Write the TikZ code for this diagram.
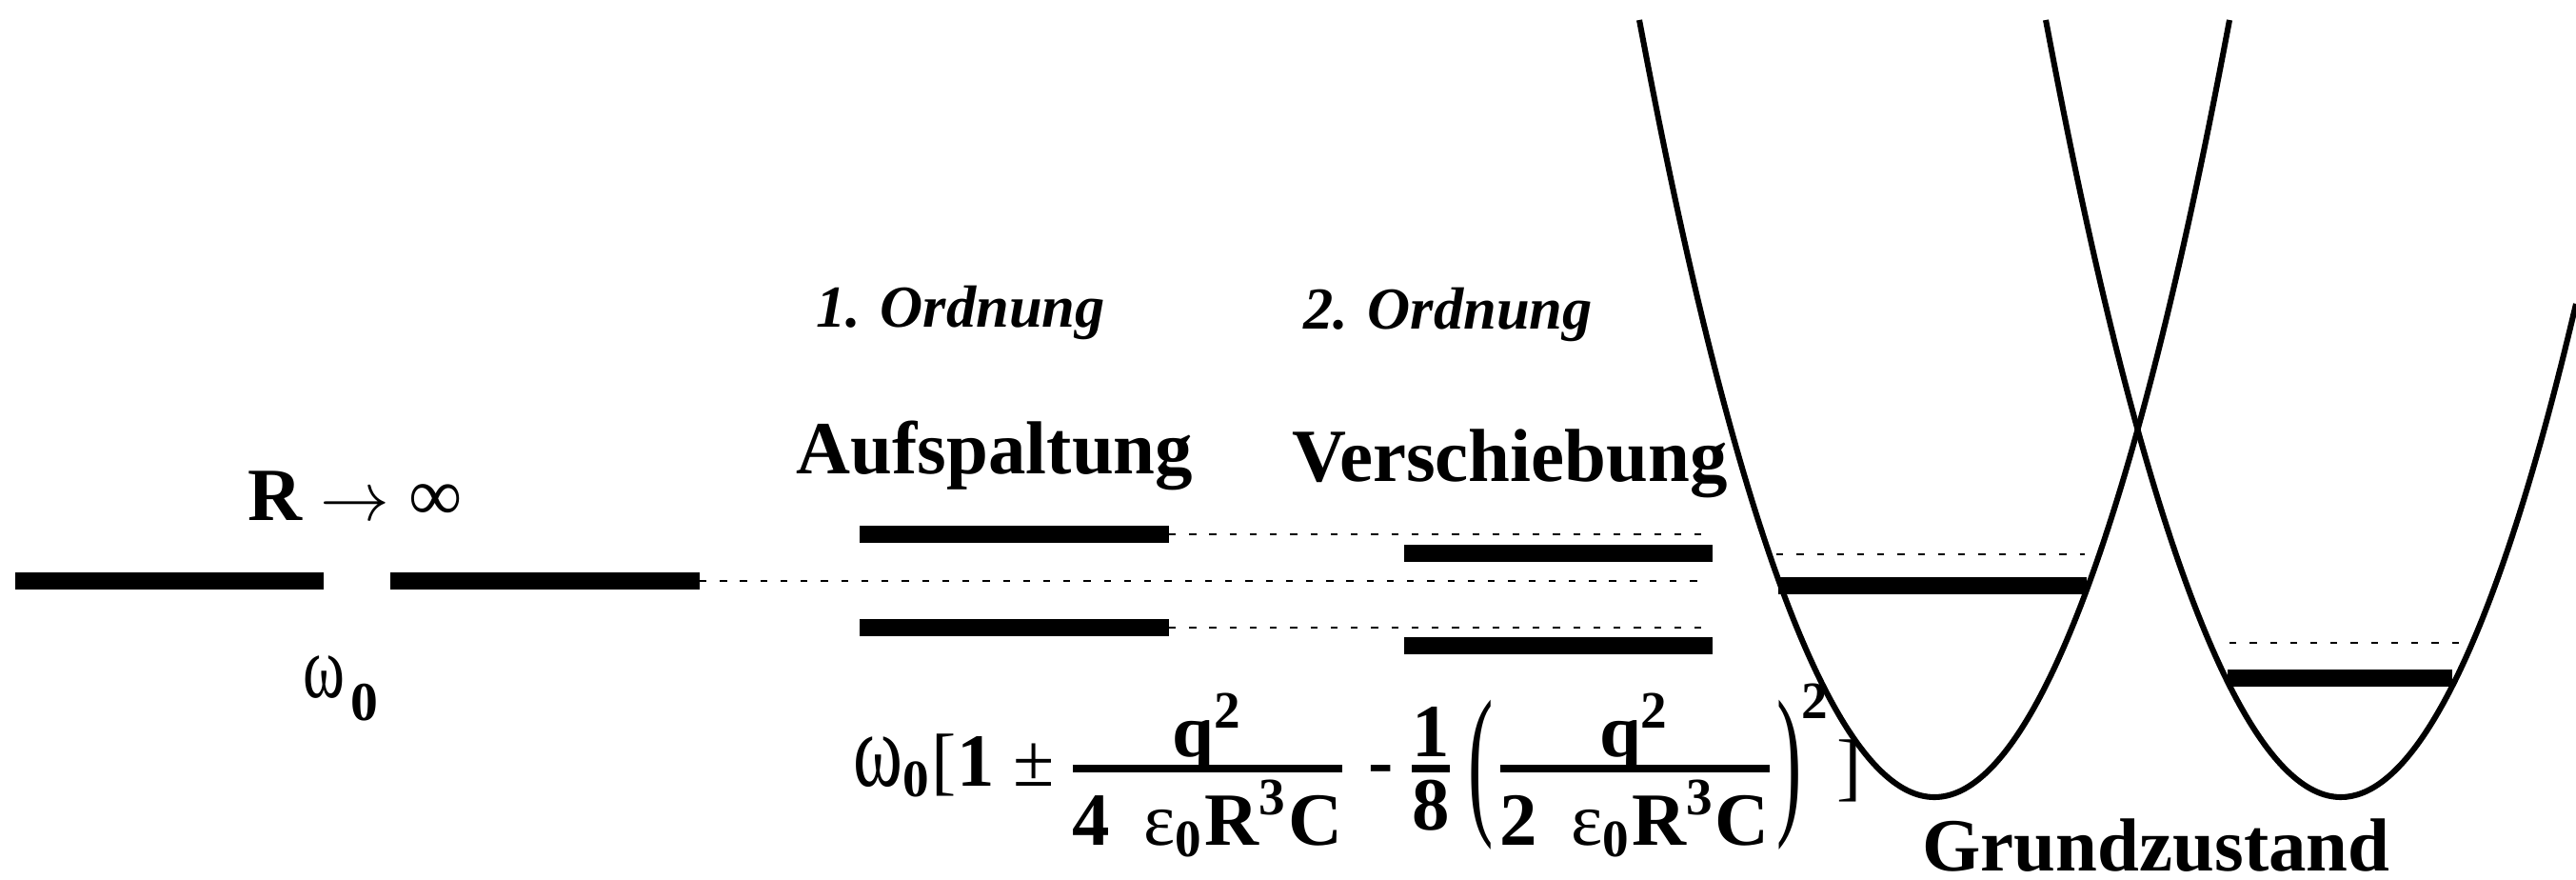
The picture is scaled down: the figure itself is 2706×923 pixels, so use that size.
\documentclass[tikz,border=0pt]{standalone}
\usepackage{fontspec}
\setmainfont{Liberation Serif}
\usepackage{amsmath}
\usepackage{graphicx}

% tall omega as in the original symbol font
\newcommand{\om}{\scalebox{1}[1.4]{\textmd{ω}}}
% fraction with a heavy rule
\newcommand{\bfrac}[2]{\genfrac{}{}{1.3pt}{1}{\displaystyle #1}{\displaystyle #2}}
% tall thin parentheses
\newcommand{\lpar}{\raisebox{-5pt}{\scalebox{1}[2.2]{\textmd{(}}}}
\newcommand{\rpar}{\raisebox{-5pt}{\scalebox{1}[2.2]{\textmd{)}}}}

\begin{document}
\begin{tikzpicture}[
    x=0.05794mm, y=-0.05794mm,
    level/.style = {line width=3pt},
    guide/.style = {line width=0.3pt, dash pattern=on 1.2pt off 2.3pt},
    well/.style  = {line width=1pt},
    txt/.style   = {inner sep=0pt, anchor=base,
                    font=\fontsize{13}{15}\selectfont\bfseries},
    order/.style = {txt, font=\fontsize{10.3}{12}\selectfont\bfseries\itshape}
]
\useasboundingbox (0,0) rectangle (2706,923);

% ========= free atoms, R -> infinity =========
\draw[level] (16,610) -- (340,610);
\draw[level] (410,610) -- (735,610) coordinate (free);
\node[txt] (rinf)  at (373,546) {R $\rightarrow$ \textmd{∞}};
\node[txt] (omega) at (358,732)
    {{\fontsize{11}{13}\selectfont\om}\kern1pt\raisebox{-4pt}{\fontsize{9.5}{11}\selectfont 0}};

% ========= first order: splitting =========
\node[order] (first) at (1009,343) {1. Ordnung};
\node[txt]   (split) at (1045,497) {Aufspaltung};
\draw[level] (903,561) -- (1228,561) coordinate (splitup);
\draw[level] (903,659) -- (1228,659) coordinate (splitlo);

% ========= second order: shift =========
\node[order] (second) at (1521,345) {2. Ordnung};
\node[txt]   (shift)  at (1586,505) {Verschiebung};
\draw[level] (1475,581) -- (1799,581);
\draw[level] (1475,678) -- (1799,678);

% ========= dashed guides =========
\coordinate (endup) at (1788,561);
\coordinate (endmid) at (1788,610);
\coordinate (endlo) at (1788,659);
\draw[guide] (free)    -- (endmid);
\draw[guide] (splitup) -- (endup);
\draw[guide] (splitlo) -- (endlo);

% ========= potential wells =========
\draw[well] (1722,21) parabola bend (2032,837) (2342,21);
\draw[well] (2149,21) parabola bend (2459,837) (2706,319);
\draw[guide] (1866,582) -- (2190,582);
\draw[level] (1868,615) -- (2192,615);
\draw[guide] (2342,675) -- (2586,675);
\draw[level] (2340,712) -- (2576,712);
\node[txt] (ground) at (2265,914) {Grundzustand};

% ========= frequency =========
\node[txt, anchor=base west] (freq) at (895,825)
    {$\om_{\text{0}}\text{\textmd{[}1 \textmd{±}}\,
     \bfrac{\smash[b]{\text{q}^{\text{2}}}}
           {\text{4}\hspace{0.45em}\text{\textmd{ε}}_{\text{0}}\text{R}^{\text{3}}\text{C}}
     \;\text{-}\,\bfrac{\text{1}}{\text{8}}\,
     \lpar\bfrac{\smash[b]{\text{q}^{\text{2}}}}
           {\text{2}\hspace{0.45em}\text{\textmd{ε}}_{\text{0}}\text{R}^{\text{3}}\text{C}}
     {\rpar}^{\text{2}}
     \text{\kern1pt\raisebox{-1pt}{\textmd{]}}}$};

\end{tikzpicture}
\end{document}
